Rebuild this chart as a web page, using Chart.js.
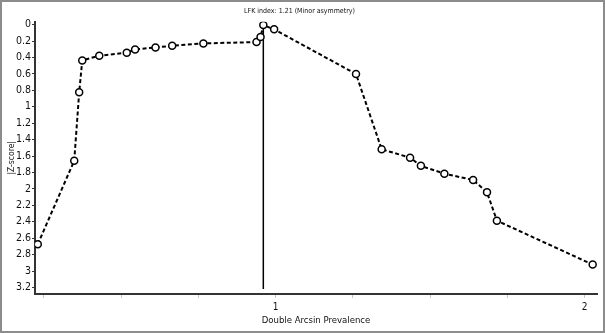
<!DOCTYPE html>
<html>
<head>
<meta charset="utf-8">
<script src="https://cdn.jsdelivr.net/npm/chart.js@4"></script>
<style>
    html, body { margin: 0; padding: 0; background: #fff; }
    #frame { width: 605px; height: 333px; box-sizing: border-box; border: 2px solid #8c8c8c; }
    canvas { display: block; }
</style>
</head>
<body>
<div id="frame"><canvas id="doiPlot" width="601" height="329"></canvas></div>
<script>
// Doi plot values
const arcsinValues = [0.230, 0.348, 0.364, 0.374, 0.429, 0.518, 0.545, 0.611, 0.665, 0.766, 0.938, 0.951,
    0.960, 0.995, 1.260, 1.343, 1.435, 1.470, 1.546, 1.639, 1.684, 1.716, 2.026];
const zScores = [2.674, 1.657, 0.825, 0.436, 0.379, 0.343, 0.302, 0.278, 0.258, 0.229, 0.213, 0.152,
    0.006, 0.058, 0.602, 1.518, 1.620, 1.720, 1.815, 1.892, 2.042, 2.387, 2.922];
const medianX = [0.96, 0.96];
const medianY = [0, 3.22];
const xTicks = [0.25, 0.5, 0.75, 1, 1.25, 1.5, 1.75, 2];
const xTickLabels = ['', '', '', '1', '', '', '', '2'];
const yTicks = [0, 0.2, 0.4, 0.6, 0.8, 1, 1.2, 1.4, 1.6, 1.8, 2, 2.2, 2.4, 2.6, 2.8, 3, 3.2];
const yTickLabels = ['0', '0.2', '0.4', '0.6', '0.8', '1', '1.2', '1.4', '1.6', '1.8', '2', '2.2', '2.4', '2.6', '2.8', '3', '3.2'];

const narrow = "'Liberation Sans Narrow', 'DejaVu Sans Condensed', 'Liberation Sans', sans-serif";

document.addEventListener('DOMContentLoaded', function() {
    const points = arcsinValues.map((x, i) => ({ x: x, y: zScores[i] }));
    const median = medianX.map((x, i) => ({ x: x, y: medianY[i] }));

    new Chart(document.getElementById('doiPlot'), {
        type: 'scatter',
        data: {
            datasets: [
                {
                    data: points,
                    showLine: true,
                    borderColor: '#000',
                    borderWidth: 2,
                    borderDash: [4, 2.5],
                    pointRadius: 3.5,
                    pointBorderWidth: 1.5,
                    pointBackgroundColor: '#fff',
                    pointBorderColor: '#000'
                },
                {
                    data: median,
                    showLine: true,
                    borderColor: '#000',
                    borderWidth: 1.5,
                    pointRadius: 0
                }
            ]
        },
        options: {
            responsive: false,
            animation: false,
            devicePixelRatio: 1,
            layout: { padding: { left: 0, right: 6, top: 0, bottom: 0 } },
            plugins: {
                legend: { display: false },
                tooltip: { enabled: false },
                title: {
                    display: true,
                    text: 'LFK index: 1.21 (Minor asymmetry)',
                    color: '#111',
                    font: { family: narrow, size: 7, weight: 'normal' },
                    padding: { top: 5, bottom: 6.3 }
                }
            },
            scales: {
                x: {
                    type: 'linear',
                    min: 0.221,
                    max: 2.04,
                    afterBuildTicks: scale => { scale.ticks = xTicks.map(v => ({ value: v })); },
                    afterFit: scale => { scale.height = 37; },
                    grid: { drawOnChartArea: false, drawTicks: true, tickLength: 4, color: '#c8c8c8' },
                    border: { display: true, color: '#333', width: 2 },
                    ticks: {
                        color: '#111',
                        padding: 3,
                        maxRotation: 0,
                        autoSkip: false,
                        font: { family: narrow, size: 10 },
                        callback: (v, i) => xTickLabels[i]
                    },
                    title: {
                        display: true,
                        text: 'Double Arcsin Prevalence',
                        color: '#111',
                        font: { family: narrow, size: 9.5 },
                        padding: { top: 0, bottom: 5 }
                    }
                },
                y: {
                    type: 'linear',
                    reverse: true,
                    min: -0.035,
                    max: 3.28,
                    afterBuildTicks: scale => { scale.ticks = yTicks.map(v => ({ value: v })); },
                    afterFit: scale => { scale.width = 33; },
                    grid: { drawOnChartArea: false, drawTicks: true, tickLength: 3, color: '#333' },
                    border: { display: true, color: '#333', width: 2 },
                    ticks: {
                        color: '#111',
                        padding: 1,
                        autoSkip: false,
                        font: { family: narrow, size: 10.5 },
                        callback: (v, i) => yTickLabels[i]
                    },
                    title: {
                        display: true,
                        text: '|Z-score|',
                        color: '#111',
                        font: { family: narrow, size: 8.5 },
                        padding: { top: 5, bottom: 0 }
                    }
                }
            }
        }
    });
});
</script>
</body>
</html>
